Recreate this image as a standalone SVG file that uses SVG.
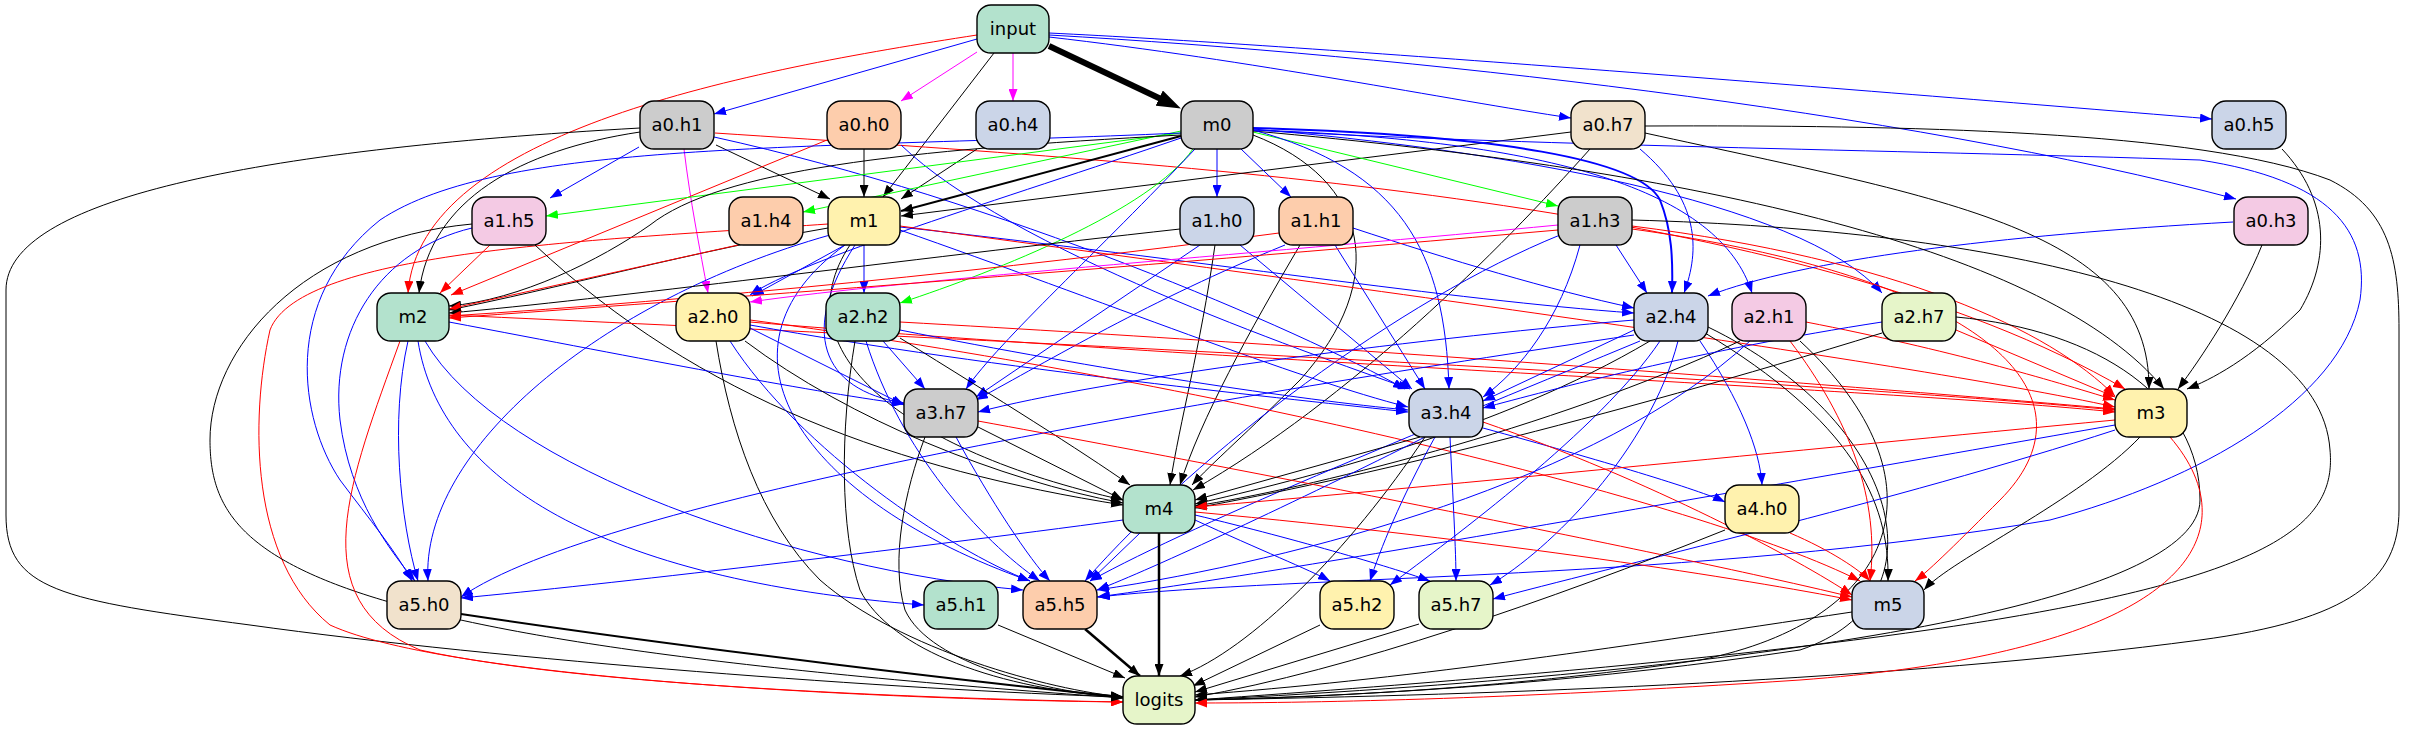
<svg xmlns="http://www.w3.org/2000/svg" width="2430" height="731" viewBox="0 0 2430 731">
<style>
.e path{fill:none;stroke-width:1}
.k{stroke:#000;marker-end:url(#ak)}
.r{stroke:#f00;marker-end:url(#ar)}
.b{stroke:#00f;marker-end:url(#ab)}
.g{stroke:#0f0;marker-end:url(#ag)}
.m{stroke:#f0f;marker-end:url(#am)}
.node rect{stroke:#000;stroke-width:1.4}
.node text{font-family:"DejaVu Sans",Verdana,sans-serif;font-size:18px;text-anchor:middle;fill:#000}
.gr{fill:#b3e2cd}.or{fill:#fdcdac}.bl{fill:#cbd5e8}.pk{fill:#f4cae4}.lg{fill:#e6f5c9}.ye{fill:#fff2ae}.be{fill:#f1e2cc}.gy{fill:#cccccc}
</style>
<defs>
<marker id="ak" viewBox="0 0 12 9" refX="12" refY="4.5" markerWidth="12" markerHeight="9" markerUnits="userSpaceOnUse" orient="auto"><path d="M0,0L12,4.5L0,9z" fill="#000"/></marker>
<marker id="ar" viewBox="0 0 12 9" refX="12" refY="4.5" markerWidth="12" markerHeight="9" markerUnits="userSpaceOnUse" orient="auto"><path d="M0,0L12,4.5L0,9z" fill="#f00"/></marker>
<marker id="ab" viewBox="0 0 12 9" refX="12" refY="4.5" markerWidth="12" markerHeight="9" markerUnits="userSpaceOnUse" orient="auto"><path d="M0,0L12,4.5L0,9z" fill="#00f"/></marker>
<marker id="ag" viewBox="0 0 12 9" refX="12" refY="4.5" markerWidth="12" markerHeight="9" markerUnits="userSpaceOnUse" orient="auto"><path d="M0,0L12,4.5L0,9z" fill="#0f0"/></marker>
<marker id="am" viewBox="0 0 12 9" refX="12" refY="4.5" markerWidth="12" markerHeight="9" markerUnits="userSpaceOnUse" orient="auto"><path d="M0,0L12,4.5L0,9z" fill="#f0f"/></marker>
<marker id="akb" viewBox="0 0 24 17" refX="2" refY="8.5" markerWidth="24" markerHeight="17" markerUnits="userSpaceOnUse" orient="auto"><path d="M0,0L24,8.5L0,17z" fill="#000"/></marker>
</defs>
<rect width="2430" height="731" fill="#fff"/>
<g id="edges" class="e">
<path d="M1049,46 L1161,99" style="stroke:#000;stroke-width:6;marker-end:url(#akb)"/>
<path class="b" d="M977,39 L714,114"/>
<path class="m" d="M977,52 L901,101"/>
<path class="m" d="M1013,53 L1013,101"/>
<path class="k" d="M994,53 L883,197"/>
<path class="b" d="M1049,37 C1250,60 1450,100 1571,118"/>
<path class="b" d="M1049,33 C1300,45 1800,85 2212,119"/>
<path class="b" d="M1049,35 C1400,55 1900,110 2236,199"/>
<path class="r" d="M977,35 C750,70 420,130 408,293"/>
<path class="b" d="M639,147 L550,198"/>
<path class="k" d="M716,145 L830,199"/>
<path class="m" d="M684,149 C690,200 700,250 708,293"/>
<path class="k" d="M640,132 C520,150 430,200 419,293"/>
<path class="k" d="M640,128 C250,150 6,200 6,290 L6,515 C6,590 60,600 250,625 C500,660 900,690 1123,697"/>
<path class="b" d="M714,137 C1000,200 1300,330 1405,389"/>
<path class="r" d="M715,133 C1200,165 1800,200 2125,389"/>
<path class="k" d="M864,149 L864,197"/>
<path class="r" d="M827,140 L451,295"/>
<path class="b" d="M901,145 C1010,250 1300,350 1410,389"/>
<path class="k" d="M977,149 L901,199"/>
<path class="k" d="M1571,132 L901,216"/>
<path class="k" d="M1645,133 C1950,200 2150,230 2149,389"/>
<path class="b" d="M1640,149 C1700,200 1700,250 1684,293"/>
<path class="k" d="M1590,149 C1500,250 1350,400 1193,490"/>
<path class="k" d="M1645,126 C1900,125 2200,130 2330,180 C2390,210 2399,260 2399,330 L2399,510 C2399,580 2350,620 2200,640 C1900,680 1500,695 1195,700"/>
<path class="k" d="M2282,149 C2330,200 2330,260 2300,310 C2250,360 2210,380 2187,389"/>
<path class="k" d="M2262,245 C2240,300 2200,360 2178,389"/>
<path class="b" d="M2233,222 C2000,235 1800,260 1708,296"/>
<path class="k" d="M1181,136 L901,211" style="stroke-width:2"/>
<path class="g" d="M1181,133 L546,216"/>
<path class="g" d="M1181,131 L803,212"/>
<path class="b" d="M1217,149 L1217,197"/>
<path class="b" d="M1241,149 L1291,197"/>
<path class="g" d="M1253,132 L1558,206"/>
<path class="g" d="M1193,149 C1150,210 1000,270 900,303"/>
<path class="b" d="M1253,128 C1500,135 1640,160 1660,200 C1672,230 1673,260 1672,293" style="stroke-width:2"/>
<path class="b" d="M1253,130 C1550,140 1720,190 1752,293"/>
<path class="b" d="M1253,129 C1500,150 1800,200 1882,293"/>
<path class="k" d="M1181,135 C900,150 720,170 650,225 C600,260 520,300 449,306"/>
<path class="k" d="M1253,131 C1700,170 2050,250 2164,389"/>
<path class="k" d="M1253,135 C1370,180 1390,280 1300,380 C1250,430 1210,465 1192,485"/>
<path class="b" d="M1253,130 C1400,170 1445,250 1449,389"/>
<path class="b" d="M1195,149 C1100,250 1000,340 966,389"/>
<path class="b" d="M1181,138 C1000,200 800,260 750,295"/>
<path class="b" d="M1181,133 C800,150 500,140 380,220 C280,300 300,420 340,480 C370,520 395,550 412,581"/>
<path class="b" d="M1253,130 C1500,145 1900,150 2200,160 C2330,180 2370,230 2360,300 C2340,400 2200,480 2050,520 C1700,580 1300,575 1098,597"/>
<path class="b" d="M845,245 L752,296"/>
<path class="b" d="M864,245 L864,293"/>
<path class="k" d="M828,228 C700,250 550,290 449,310"/>
<path class="b" d="M900,227 C1200,260 1450,300 1634,313"/>
<path class="b" d="M855,245 C800,330 820,390 904,403"/>
<path class="b" d="M900,230 C1100,300 1300,380 1408,407"/>
<path class="r" d="M900,226 C1300,280 1900,360 2115,407"/>
<path class="k" d="M850,245 C780,350 900,450 1123,500"/>
<path class="b" d="M830,235 C600,300 420,450 428,581"/>
<path class="b" d="M845,245 C700,350 800,500 1030,581"/>
<path class="r" d="M828,224 C600,240 300,250 270,330 C250,420 250,560 330,625 C450,680 900,700 1123,702"/>
<path class="r" d="M490,245 L440,293"/>
<path class="b" d="M472,228 C380,250 330,330 340,420 C350,500 390,550 415,581"/>
<path class="k" d="M472,224 C300,240 210,350 210,440 C210,560 300,640 1123,698"/>
<path class="k" d="M535,245 C700,400 900,470 1123,505"/>
<path class="r" d="M738,245 L449,309"/>
<path class="k" d="M1180,229 C900,260 600,300 449,313"/>
<path class="b" d="M1200,245 L976,397"/>
<path class="b" d="M1240,245 L1412,389"/>
<path class="k" d="M1215,245 C1200,350 1180,420 1170,485"/>
<path class="r" d="M1279,233 C1000,270 700,300 449,316"/>
<path class="b" d="M1285,245 C1150,300 1050,360 976,400"/>
<path class="b" d="M1335,245 L1425,389"/>
<path class="b" d="M1353,228 C1450,260 1550,290 1634,308"/>
<path class="k" d="M1300,245 C1250,330 1200,420 1180,485"/>
<path class="m" d="M1558,225 C1300,250 900,280 750,302"/>
<path class="r" d="M1558,230 C1100,270 700,300 449,318"/>
<path class="b" d="M1616,245 L1647,293"/>
<path class="b" d="M1580,245 C1560,320 1520,370 1483,397"/>
<path class="r" d="M1632,226 C1900,260 2050,330 2115,396"/>
<path class="r" d="M1632,229 C2000,280 2100,400 2000,500 C1960,540 1930,570 1915,581"/>
<path class="k" d="M1632,220 C2000,230 2320,300 2330,450 C2340,560 2200,630 1195,700"/>
<path class="b" d="M1560,235 C1400,300 1200,450 1085,581"/>
<path class="b" d="M449,322 C650,360 800,390 904,404"/>
<path class="r" d="M449,315 C1000,340 1800,380 2115,410"/>
<path class="b" d="M408,341 C390,420 400,520 418,581"/>
<path class="b" d="M418,341 C440,480 600,580 924,605"/>
<path class="b" d="M425,341 C500,470 800,570 1023,590"/>
<path class="r" d="M400,341 C350,480 300,600 420,650 C600,690 1000,700 1123,702"/>
<path class="b" d="M750,328 L904,405"/>
<path class="b" d="M750,325 C1000,370 1300,400 1408,412"/>
<path class="r" d="M750,322 C1200,360 1900,390 2115,412"/>
<path class="k" d="M745,341 C850,420 1000,480 1123,503"/>
<path class="b" d="M730,341 C800,450 950,550 1030,581"/>
<path class="k" d="M716,341 C730,430 760,520 820,580 C900,650 1050,690 1123,697"/>
<path class="r" d="M750,320 C1200,380 1700,500 1860,581"/>
<path class="b" d="M883,341 L925,389"/>
<path class="b" d="M900,330 C1100,370 1300,400 1408,410"/>
<path class="r" d="M900,322 C1400,350 1900,390 2115,409"/>
<path class="k" d="M900,338 C1000,400 1080,450 1130,485"/>
<path class="b" d="M866,341 C900,450 980,540 1040,581"/>
<path class="k" d="M855,341 C840,430 840,530 860,590 C890,650 1000,690 1123,697"/>
<path class="b" d="M1634,320 C1400,340 1100,380 978,412"/>
<path class="b" d="M1634,330 L1483,401"/>
<path class="k" d="M1650,341 C1500,430 1300,480 1195,504"/>
<path class="b" d="M1700,341 C1740,400 1760,450 1762,485"/>
<path class="b" d="M1634,335 C1200,400 600,500 461,597"/>
<path class="b" d="M1640,341 C1450,420 1200,520 1090,581"/>
<path class="b" d="M1660,341 C1600,430 1450,540 1390,585"/>
<path class="b" d="M1678,341 C1650,450 1550,550 1490,585"/>
<path class="k" d="M1705,333 C1850,420 1890,500 1888,581"/>
<path class="k" d="M1708,327 C1900,420 1950,600 1800,650 C1600,680 1400,695 1195,700"/>
<path class="r" d="M1806,322 C1950,350 2050,380 2115,400"/>
<path class="k" d="M1740,341 C1550,430 1300,490 1195,506"/>
<path class="b" d="M1750,341 C1600,480 1300,560 1097,590"/>
<path class="r" d="M1790,341 C1850,420 1880,500 1870,581"/>
<path class="k" d="M1800,341 C1950,480 1900,620 1700,660 C1500,690 1300,698 1195,700"/>
<path class="r" d="M1956,330 L2115,397"/>
<path class="b" d="M1882,322 C1700,350 1550,390 1483,408"/>
<path class="k" d="M1882,333 C1600,420 1350,480 1195,508"/>
<path class="k" d="M1956,317 C2100,330 2200,400 2200,500 C2200,600 1800,670 1195,700"/>
<path class="k" d="M978,427 L1123,500"/>
<path class="b" d="M956,437 C990,500 1030,560 1050,581"/>
<path class="r" d="M978,421 C1300,480 1700,560 1852,597"/>
<path class="k" d="M925,437 C905,490 890,560 905,610 C930,665 1050,692 1123,698"/>
<path class="k" d="M1420,437 L1195,500"/>
<path class="b" d="M1425,437 C1300,500 1150,570 1097,590"/>
<path class="b" d="M1435,437 C1400,500 1380,550 1370,581"/>
<path class="b" d="M1450,437 C1453,500 1456,550 1456,581"/>
<path class="b" d="M1483,428 C1600,460 1700,490 1725,502"/>
<path class="r" d="M1483,422 C1650,480 1800,560 1852,595"/>
<path class="k" d="M1425,437 C1350,550 1250,650 1180,676"/>
<path class="r" d="M2115,420 C1800,450 1400,490 1195,507"/>
<path class="b" d="M2115,425 C1800,480 1300,570 1097,597"/>
<path class="b" d="M2115,430 C1900,500 1600,570 1493,599"/>
<path class="k" d="M2140,437 C2080,500 1950,560 1924,590"/>
<path class="r" d="M2170,437 C2250,530 2200,650 1800,680 C1500,700 1300,703 1195,703"/>
<path class="b" d="M1123,520 C900,550 600,585 461,598"/>
<path class="b" d="M1140,533 L1090,581"/>
<path class="b" d="M1195,520 C1260,550 1310,570 1330,581"/>
<path class="b" d="M1195,515 C1300,540 1400,570 1430,581"/>
<path class="r" d="M1195,512 C1500,540 1750,580 1852,600"/>
<path class="k" d="M1159,533 L1159,676" style="stroke-width:2.5"/>
<path class="r" d="M1790,533 C1830,550 1860,570 1870,581"/>
<path class="k" d="M1725,530 C1550,600 1350,670 1195,697"/>
<path class="k" d="M461,614 C700,650 1000,685 1123,697" style="stroke-width:2"/>
<path class="k" d="M998,625 L1125,678"/>
<path class="k" d="M1085,629 L1140,676" style="stroke-width:2.5"/>
<path class="k" d="M1320,625 L1193,686"/>
<path class="k" d="M1419,624 L1195,692"/>
<path class="k" d="M1852,612 C1600,650 1400,680 1195,695"/>
</g>
<g id="nodes">
<g id="n-input" class="node"><rect class="gr" x="977" y="5" width="72" height="48" rx="14"/><text x="1013" y="35">input</text></g>
<g id="n-a0h1" class="node"><rect class="gy" x="640" y="101" width="74" height="48" rx="14"/><text x="677" y="131">a0.h1</text></g>
<g id="n-a0h0" class="node"><rect class="or" x="827" y="101" width="74" height="48" rx="14"/><text x="864" y="131">a0.h0</text></g>
<g id="n-a0h4" class="node"><rect class="bl" x="976" y="101" width="74" height="48" rx="14"/><text x="1013" y="131">a0.h4</text></g>
<g id="n-m0" class="node"><rect class="gy" x="1181" y="101" width="72" height="48" rx="14"/><text x="1217" y="131">m0</text></g>
<g id="n-a0h7" class="node"><rect class="be" x="1571" y="101" width="74" height="48" rx="14"/><text x="1608" y="131">a0.h7</text></g>
<g id="n-a0h5" class="node"><rect class="bl" x="2212" y="101" width="74" height="48" rx="14"/><text x="2249" y="131">a0.h5</text></g>
<g id="n-a0h3" class="node"><rect class="pk" x="2234" y="197" width="74" height="48" rx="14"/><text x="2271" y="227">a0.h3</text></g>
<g id="n-a1h5" class="node"><rect class="pk" x="472" y="197" width="74" height="48" rx="14"/><text x="509" y="227">a1.h5</text></g>
<g id="n-a1h4" class="node"><rect class="or" x="729" y="197" width="74" height="48" rx="14"/><text x="766" y="227">a1.h4</text></g>
<g id="n-m1" class="node"><rect class="ye" x="828" y="197" width="72" height="48" rx="14"/><text x="864" y="227">m1</text></g>
<g id="n-a1h0" class="node"><rect class="bl" x="1180" y="197" width="74" height="48" rx="14"/><text x="1217" y="227">a1.h0</text></g>
<g id="n-a1h1" class="node"><rect class="or" x="1279" y="197" width="74" height="48" rx="14"/><text x="1316" y="227">a1.h1</text></g>
<g id="n-a1h3" class="node"><rect class="gy" x="1558" y="197" width="74" height="48" rx="14"/><text x="1595" y="227">a1.h3</text></g>
<g id="n-m2" class="node"><rect class="gr" x="377" y="293" width="72" height="48" rx="14"/><text x="413" y="323">m2</text></g>
<g id="n-a2h0" class="node"><rect class="ye" x="676" y="293" width="74" height="48" rx="14"/><text x="713" y="323">a2.h0</text></g>
<g id="n-a2h2" class="node"><rect class="gr" x="826" y="293" width="74" height="48" rx="14"/><text x="863" y="323">a2.h2</text></g>
<g id="n-a2h4" class="node"><rect class="bl" x="1634" y="293" width="74" height="48" rx="14"/><text x="1671" y="323">a2.h4</text></g>
<g id="n-a2h1" class="node"><rect class="pk" x="1732" y="293" width="74" height="48" rx="14"/><text x="1769" y="323">a2.h1</text></g>
<g id="n-a2h7" class="node"><rect class="lg" x="1882" y="293" width="74" height="48" rx="14"/><text x="1919" y="323">a2.h7</text></g>
<g id="n-a3h7" class="node"><rect class="gy" x="904" y="389" width="74" height="48" rx="14"/><text x="941" y="419">a3.h7</text></g>
<g id="n-a3h4" class="node"><rect class="bl" x="1409" y="389" width="74" height="48" rx="14"/><text x="1446" y="419">a3.h4</text></g>
<g id="n-m3" class="node"><rect class="ye" x="2115" y="389" width="72" height="48" rx="14"/><text x="2151" y="419">m3</text></g>
<g id="n-m4" class="node"><rect class="gr" x="1123" y="485" width="72" height="48" rx="14"/><text x="1159" y="515">m4</text></g>
<g id="n-a4h0" class="node"><rect class="ye" x="1725" y="485" width="74" height="48" rx="14"/><text x="1762" y="515">a4.h0</text></g>
<g id="n-a5h0" class="node"><rect class="be" x="387" y="581" width="74" height="48" rx="14"/><text x="424" y="611">a5.h0</text></g>
<g id="n-a5h1" class="node"><rect class="gr" x="924" y="581" width="74" height="48" rx="14"/><text x="961" y="611">a5.h1</text></g>
<g id="n-a5h5" class="node"><rect class="or" x="1023" y="581" width="74" height="48" rx="14"/><text x="1060" y="611">a5.h5</text></g>
<g id="n-a5h2" class="node"><rect class="ye" x="1320" y="581" width="74" height="48" rx="14"/><text x="1357" y="611">a5.h2</text></g>
<g id="n-a5h7" class="node"><rect class="lg" x="1419" y="581" width="74" height="48" rx="14"/><text x="1456" y="611">a5.h7</text></g>
<g id="n-m5" class="node"><rect class="bl" x="1852" y="581" width="72" height="48" rx="14"/><text x="1888" y="611">m5</text></g>
<g id="n-logits" class="node"><rect class="lg" x="1123" y="676" width="72" height="48" rx="14"/><text x="1159" y="706">logits</text></g>
</g>
</svg>
